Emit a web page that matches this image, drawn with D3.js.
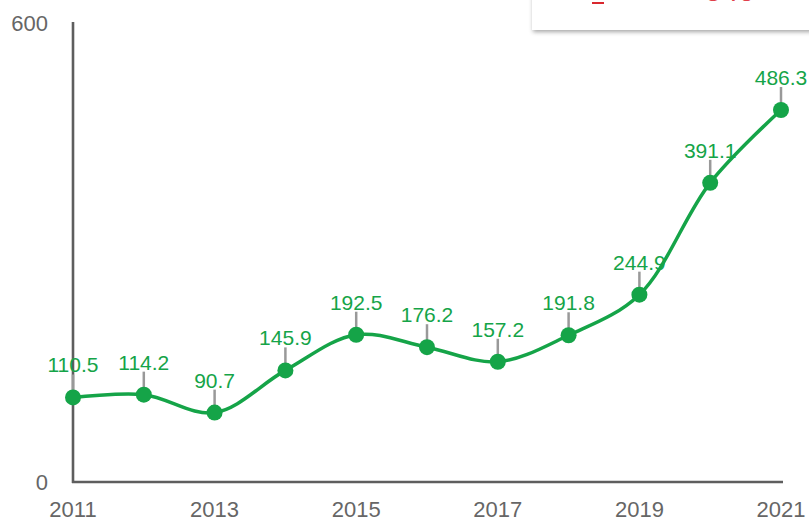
<!DOCTYPE html>
<html>
<head>
<meta charset="utf-8">
<script src="https://cdn.jsdelivr.net/npm/d3@7"></script>
<style>
  html, body { margin: 0; padding: 0; background: #fff; }
  svg { display: block; font-family: Arial, "Liberation Sans", Helvetica, sans-serif; }
</style>
</head>
<body>
<svg id="chart" width="809" height="522"></svg>
<script>
const years = [2011, 2012, 2013, 2014, 2015, 2016, 2017, 2018, 2019, 2020, 2021];
const values = [110.5, 114.2, 90.7, 145.9, 192.5, 176.2, 157.2, 191.8, 244.9, 391.1, 486.3];
const xTickLabels = [2011, 2013, 2015, 2017, 2019, 2021];
const yTickLabels = [0, 600];

const svg = d3.select("#chart");
const green = "#15a448";
const axisColor = "#5e5e5e";

const x = d3.scaleLinear().domain([2011, 2021]).range([73, 781]);
const y = d3.scaleLinear().domain([0, 600]).range([482, 23]);

// legend/tooltip box at top right (mostly clipped)
const defs = svg.append("defs");
const f = defs.append("filter").attr("id", "shadow").attr("x", "-10%").attr("y", "-50%").attr("width", "130%").attr("height", "200%");
f.append("feDropShadow").attr("dx", 1).attr("dy", 2).attr("stdDeviation", 2).attr("flood-color", "#000").attr("flood-opacity", 0.35);
const box = svg.append("g");
box.append("rect").attr("x", 532).attr("y", -40).attr("width", 300).attr("height", 70)
  .attr("fill", "#fff").attr("filter", "url(#shadow)");
box.append("rect").attr("x", 592).attr("y", -3).attr("width", 12).attr("height", 2).attr("fill", "#d9272e");
box.append("rect").attr("x", 592).attr("y", 2).attr("width", 12).attr("height", 2).attr("fill", "#d9272e");
box.append("text").attr("x", 730).attr("y", 1).attr("text-anchor", "middle")
  .attr("font-size", 30).attr("fill", "#e0404a").text("540");

// axes
svg.append("line").attr("x1", 73).attr("x2", 73).attr("y1", y(600) - 1).attr("y2", y(0) + 1)
  .attr("stroke", axisColor).attr("stroke-width", 2.6);
svg.append("line").attr("x1", 72).attr("x2", 783).attr("y1", y(0)).attr("y2", y(0))
  .attr("stroke", axisColor).attr("stroke-width", 2.6);

svg.append("g").selectAll("text").data(yTickLabels).join("text")
  .attr("x", 48).attr("y", d => y(d)).attr("dy", "0.36em")
  .attr("text-anchor", "end").attr("font-size", 22).attr("fill", "#666")
  .text(d => d);

svg.append("g").selectAll("text").data(xTickLabels).join("text")
  .attr("x", d => x(d)).attr("y", 517)
  .attr("text-anchor", "middle").attr("font-size", 22).attr("fill", "#666")
  .text(d => d);

const data = years.map((yr, i) => ({ yr, v: values[i] }));

// leader lines
svg.append("g").selectAll("line").data(data).join("line")
  .attr("x1", d => x(d.yr)).attr("x2", d => x(d.yr))
  .attr("y1", d => y(d.v) - 23).attr("y2", d => y(d.v))
  .attr("stroke", "#999").attr("stroke-width", 2.5);

// line
const line = d3.line().x(d => x(d.yr)).y(d => y(d.v)).curve(d3.curveCatmullRom.alpha(0.5));
svg.append("path").datum(data).attr("d", line)
  .attr("fill", "none").attr("stroke", green).attr("stroke-width", 3.5);

// dots
svg.append("g").selectAll("circle").data(data).join("circle")
  .attr("cx", d => x(d.yr)).attr("cy", d => y(d.v)).attr("r", 8)
  .attr("fill", green);

// labels
svg.append("g").selectAll("text").data(data).join("text")
  .attr("x", d => x(d.yr)).attr("y", d => y(d.v) - 25)
  .attr("text-anchor", "middle").attr("font-size", 21).attr("fill", green)
  .text(d => d.v.toFixed(1));
</script>
</body>
</html>
